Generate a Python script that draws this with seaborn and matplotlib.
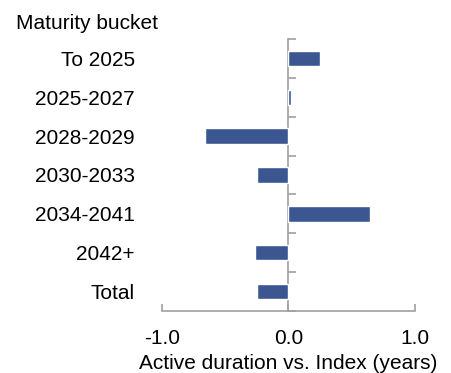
import matplotlib
matplotlib.use("Agg")
import matplotlib.pyplot as plt
import seaborn as sns
import pandas as pd
import numpy as np

categories = ["To 2025", "2025-2027", "2028-2029", "2030-2033", "2034-2041", "2042+", "Total"]
values = [0.25, 0.02, -0.66, -0.25, 0.65, -0.26, -0.25]
xticks = [-1.0, 0.0, 1.0]
xtick_labels = ["-1.0", "0.0", "1.0"]
title = "Maturity bucket"
xlabel = "Active duration vs. Index (years)"

sns.set_theme(style="white")
plt.rcParams["font.family"] = ["Liberation Sans", "DejaVu Sans"]

df = pd.DataFrame({"bucket": categories, "value": values})

fig = plt.figure(figsize=(4.52, 3.73), dpi=100)
ax = fig.add_axes([162 / 452, 1 - 311 / 373, (414.7 - 162) / 452, (311 - 39) / 373])

sns.barplot(data=df, x="value", y="bucket", orient="h", color="#3B5690",
            width=0.4, saturation=1, ax=ax)

grey = "#A0A0A0"
ax.set_xlim(-1.0, 1.0)
ax.set_ylim(len(categories) - 0.5, -0.5)

for s in ["top", "right", "left"]:
    ax.spines[s].set_visible(False)
ax.spines["bottom"].set_color(grey)
ax.spines["bottom"].set_linewidth(1.2)

ax.set_xticks(xticks)
ax.set_xticklabels(xtick_labels)
ax.tick_params(axis="x", bottom=True, direction="in", length=5, width=1.2, color=grey,
               labelsize=15, pad=13, labelcolor="black")
ax.tick_params(axis="y", left=False, length=0, labelsize=15, pad=19.5, labelcolor="black")
ax.set_ylabel("")
ax.set_xlabel(xlabel, fontsize=15, labelpad=4, color="black")

# zero (category) axis with boundary ticks
sec = ax.secondary_yaxis(0.5)
for sp in sec.spines.values():
    sp.set_color(grey)
    sp.set_linewidth(1.2)
bounds = np.arange(len(categories) + 1) - 0.5
sec.set_yticks(bounds)
sec.set_yticklabels([])
sec.yaxis.set_ticks_position("left")
sec.tick_params(axis="y", left=True, right=False, direction="in", length=6, width=1.2, color=grey)

fig.text(16 / 452, 1 - 14 / 373, title, fontsize=15, ha="left", va="top", color="black")

fig.savefig("out.png", dpi=100)
